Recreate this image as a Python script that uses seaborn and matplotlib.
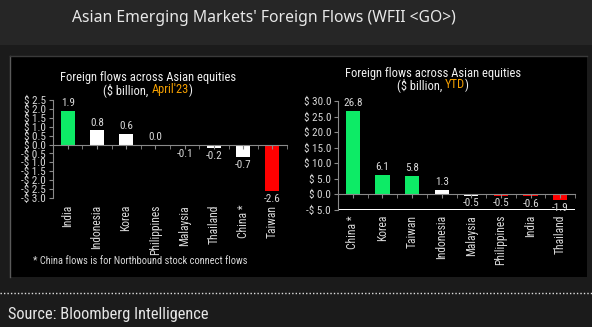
import matplotlib
matplotlib.use("Agg")
import matplotlib.pyplot as plt
import seaborn as sns
import pandas as pd
import numpy as np
from matplotlib import font_manager
from matplotlib.font_manager import FontProperties
from matplotlib.patches import Rectangle
from matplotlib.lines import Line2D
from matplotlib.ticker import FuncFormatter, MultipleLocator

# ---------------- data ----------------
title = "Asian Emerging Markets' Foreign Flows (WFII <GO>)"
subtitle = "Foreign flows across Asian equities"
source = "Source: Bloomberg Intelligence"
footnote = "* China flows is for Northbound stock connect flows"

apr_countries = ["India", "Indonesia", "Korea", "Philippines", "Malaysia", "Thailand", "China *", "Taiwan"]
apr_values = [1.9, 0.8, 0.6, 0.0, -0.1, -0.2, -0.7, -2.6]
apr_kinds = ["green", "white", "white", "white", "white", "white", "white", "red"]

ytd_countries = ["China *", "Korea", "Taiwan", "Indonesia", "Malaysia", "Philippines", "India", "Thailand"]
ytd_values = [26.8, 6.1, 5.8, 1.3, -0.5, -0.5, -0.6, -1.9]
ytd_kinds = ["green", "green", "green", "white", "white", "red", "red", "red"]

kind_colors = {"green": "#0deb66", "white": "#ffffff", "red": "#ff0000"}
ORANGE = "#f5a000"
TXT = "#d9d9d9"
GRAY = "#8a8a8a"


def pick(names):
    for n in names:
        try:
            font_manager.findfont(FontProperties(family=n), fallback_to_default=False)
            return n
        except Exception:
            pass
    return "DejaVu Sans"


NARROW = pick(["Liberation Sans Narrow", "Roboto Condensed", "Roboto"])
TITLEF = pick(["Noto Sans", "Open Sans", "DejaVu Sans"])

W, H = 592, 327
fig = plt.figure(figsize=(W / 100, H / 100), dpi=100)
fig.patch.set_facecolor("#1b1b1b")


def fx(px):
    return px / W


def fy(py):
    return 1 - py / H


# background pieces
fig.patches.append(Rectangle((0, fy(45)), 1, 45 / H, transform=fig.transFigure,
                             facecolor="#262626", edgecolor="none", zorder=-5))
fig.patches.append(Rectangle((fx(10), fy(277)), 577 / W, 221 / H, transform=fig.transFigure,
                             facecolor="black", edgecolor="none", zorder=-5))
fig.lines.append(Line2D([fx(10), fx(10)], [fy(277), fy(56)], transform=fig.transFigure,
                        color="#5a5a5a", lw=1, zorder=-4))
fig.lines.append(Line2D([fx(10), fx(587)], [fy(56), fy(56)], transform=fig.transFigure,
                        color="#3a3a3a", lw=1, zorder=-4))
fig.lines.append(Line2D([0, 1], [fy(293), fy(293)], transform=fig.transFigure,
                        color="#e0e0e0", lw=1, linestyle=(0, (1, 1.5)), zorder=-4))

fig.text(fx(264), fy(18.5), title, ha="center", va="center", color="#e8e8e8",
         fontsize=11.3, family=TITLEF, fontweight="medium")
fig.text(fx(8), fy(314), source, ha="left", va="center", color="#e6e6e6",
         fontsize=11.8, family=NARROW)
fig.text(fx(33), fy(261), footnote, ha="left", va="center", color=TXT,
         fontsize=7.5, family=NARROW)


def colored_line(xc_px, y_px, parts, size):
    renderer = fig.canvas.get_renderer()

    def width(s):
        t = fig.text(0, 0, s, fontsize=size, family=NARROW)
        w = t.get_window_extent(renderer).width
        t.remove()
        return w

    full = "".join(p for p, _ in parts)
    total = width(full)
    x0 = xc_px - total / 2
    prefix = ""
    for s, c in parts:
        off = width(prefix) if prefix else 0.0
        fig.text(fx(x0 + off), fy(y_px), s, color=c, fontsize=size, family=NARROW,
                 ha="left", va="center")
        prefix += s


def fmt_dollar(v, pos=None):
    v = round(v, 1)
    if v < 0:
        return f"-$ {abs(v):.1f}"
    return f"$ {v:.1f}"


def draw(ax, countries, values, kinds, ylim, step, label_pad):
    df = pd.DataFrame({"country": countries, "value": values,
                       "color": [kind_colors[k] for k in kinds]})
    pal = dict(zip(df["country"], df["color"]))
    sns.barplot(data=df, x="country", y="value", hue="country", palette=pal,
                width=0.48, saturation=1, legend=False, ax=ax, edgecolor="none")
    ax.set_facecolor("black")
    ax.patch.set_alpha(0)
    ax.set_zorder(3)
    ax.set_ylim(*ylim)
    ax.set_xlim(-0.5, len(countries) - 0.5)
    ax.set_xlabel("")
    ax.set_ylabel("")
    for s in ["top", "right"]:
        ax.spines[s].set_visible(False)
    ax.spines["left"].set_color(GRAY)
    ax.spines["bottom"].set_color(GRAY)
    ax.spines["bottom"].set_position(("data", 0))
    ax.yaxis.set_major_locator(MultipleLocator(step))
    ax.yaxis.set_major_formatter(FuncFormatter(fmt_dollar))
    ax.tick_params(axis="y", colors=GRAY, labelcolor=TXT, labelsize=8, length=3, pad=2)
    for lab in ax.get_yticklabels():
        lab.set_family(NARROW)
    ax.set_xticks(range(len(countries)))
    ax.set_xticks(np.arange(-0.5, len(countries), 1.0), minor=True)
    ax.tick_params(axis="x", which="both", colors=GRAY, labelbottom=False, length=3)
    sec = ax.secondary_xaxis("bottom")
    sec.set_xticks(range(len(countries)), countries, rotation=90)
    sec.tick_params(length=0, pad=label_pad, labelcolor=TXT, labelsize=8.3)
    sec.spines["bottom"].set_visible(False)
    for lab in sec.get_xticklabels():
        lab.set_family(NARROW)
    for cont in ax.containers:
        labs = ax.bar_label(cont, fmt="%.1f", padding=2, color=TXT, fontsize=8)
        for l in labs:
            l.set_family(NARROW)


ax1 = fig.add_axes([fx(53), fy(198), 234 / W, 98 / H])
draw(ax1, apr_countries, apr_values, apr_kinds, (-3.0, 2.5), 0.5, 5)
ax2 = fig.add_axes([fx(338), fy(209.5), 237 / W, 108.5 / H])
draw(ax2, ytd_countries, ytd_values, ytd_kinds, (-5.0, 30.0), 5.0, 4)

colored_line(148, 77, [(subtitle, "#f0f0f0")], 9)
colored_line(148, 90, [("($ billion, ", "#f0f0f0"), ("April'23", ORANGE), (")", "#f0f0f0")], 9)
colored_line(433, 73, [(subtitle, "#f0f0f0")], 9)
colored_line(433, 85, [("($ billion, ", "#f0f0f0"), ("YTD", ORANGE), (")", "#f0f0f0")], 9)

fig.savefig("out.png", dpi=100, facecolor=fig.get_facecolor())
